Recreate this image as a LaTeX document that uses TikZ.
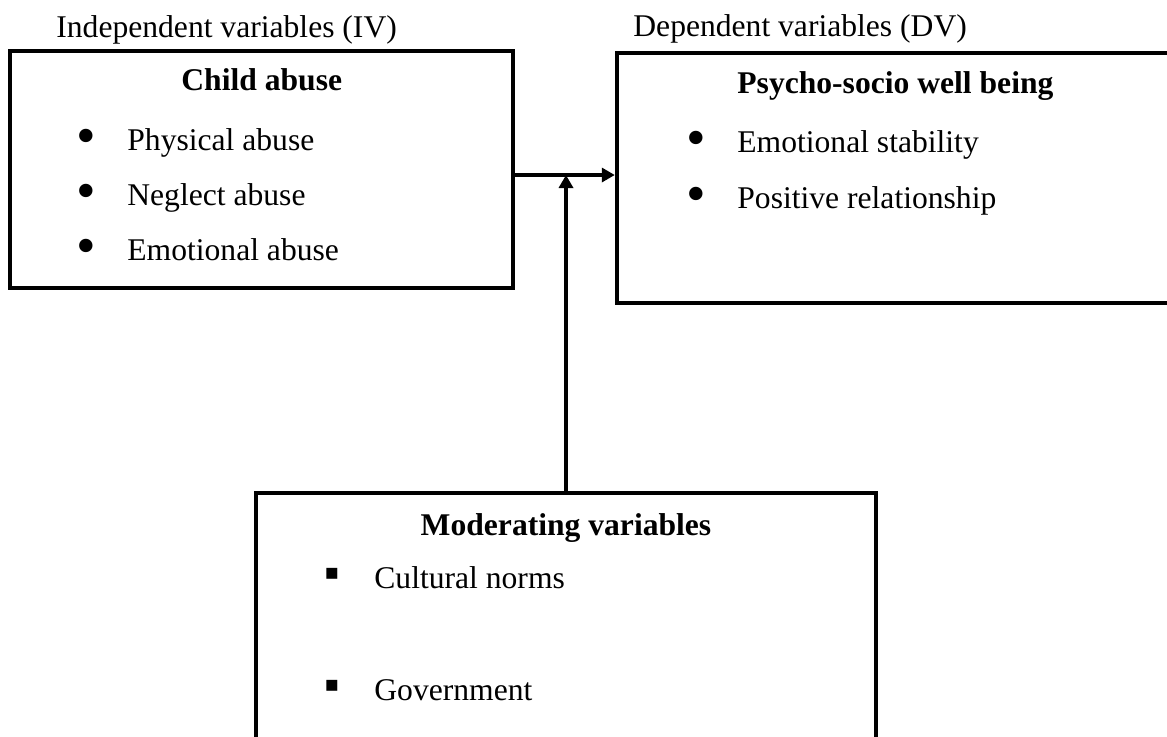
\documentclass[tikz,border=0pt]{standalone}
\usepackage{fontspec}
\setmainfont{Liberation Serif}
\usetikzlibrary{arrows.meta}

\begin{document}
\begin{tikzpicture}[x=0.5pt, y=-0.5pt,
        >={Triangle[length=6.5pt,width=7pt]},
        every node/.style={inner sep=0pt, font=\fontsize{15.8pt}{19pt}\selectfont},
        box/.style={draw, rectangle, line width=2.2pt},
        head/.style={anchor=base west},
        title/.style={anchor=base, font=\fontsize{15.8pt}{19pt}\selectfont\bfseries},
        item/.style={anchor=base west},
        dot/.style={anchor=center, font=\fontsize{28pt}{30pt}\selectfont},
        sq/.style={anchor=center, font=\fontsize{22pt}{24pt}\selectfont}]
            \clip (0,0) rectangle (1167,736);

            \node[box, minimum width=251.5pt, minimum height=118.5pt] (iv) at (261.75,169.5) {};
            \node[box, minimum width=286.5pt, minimum height=125pt] (dv) at (903.5,178) {};
            \node[box, minimum width=310pt, minimum height=143.5pt] (mod) at (566,636.5) {};

            \node[head] (ivhead) at (56,37) {Independent variables (IV)};
            \node[head] (dvhead) at (633,36) {Dependent variables (DV)};

            \node[title] (ivtitle) at (261.75,90) {Child abuse};
            \node[dot] (ivdot1) at (86,142) {•};
            \node[item] (phys) at (127,150) {Physical abuse};
            \node[dot] (ivdot2) at (86,197) {•};
            \node[item] (negl) at (127,205) {Neglect abuse};
            \node[dot] (ivdot3) at (86,252) {•};
            \node[item] (emot) at (127,260) {Emotional abuse};

            \node[title, anchor=base west] (dvtitle) at (737,93) {Psycho-socio well being};
            \node[dot] (dvdot1) at (696,144) {•};
            \node[item] (stab) at (737,152) {Emotional stability};
            \node[dot] (dvdot2) at (696,200) {•};
            \node[item] (rel) at (737,208) {Positive relationship};

            \node[title] (modtitle) at (566,535) {Moderating variables};
            \node[sq] (moddot1) at (332,578) {▪};
            \node[item] (cult) at (374,588) {Cultural norms};
            \node[sq] (moddot2) at (332,690) {▪};
            \node[item] (gov) at (374,700) {Government};

            \coordinate (meet) at (566,175);
            \draw [->, line width=1.8pt] (iv.east |- meet) -- (dv.west |- meet);
            \draw [->, line width=1.8pt] (mod.north) -- (meet);
        \end{tikzpicture}
\end{document}
